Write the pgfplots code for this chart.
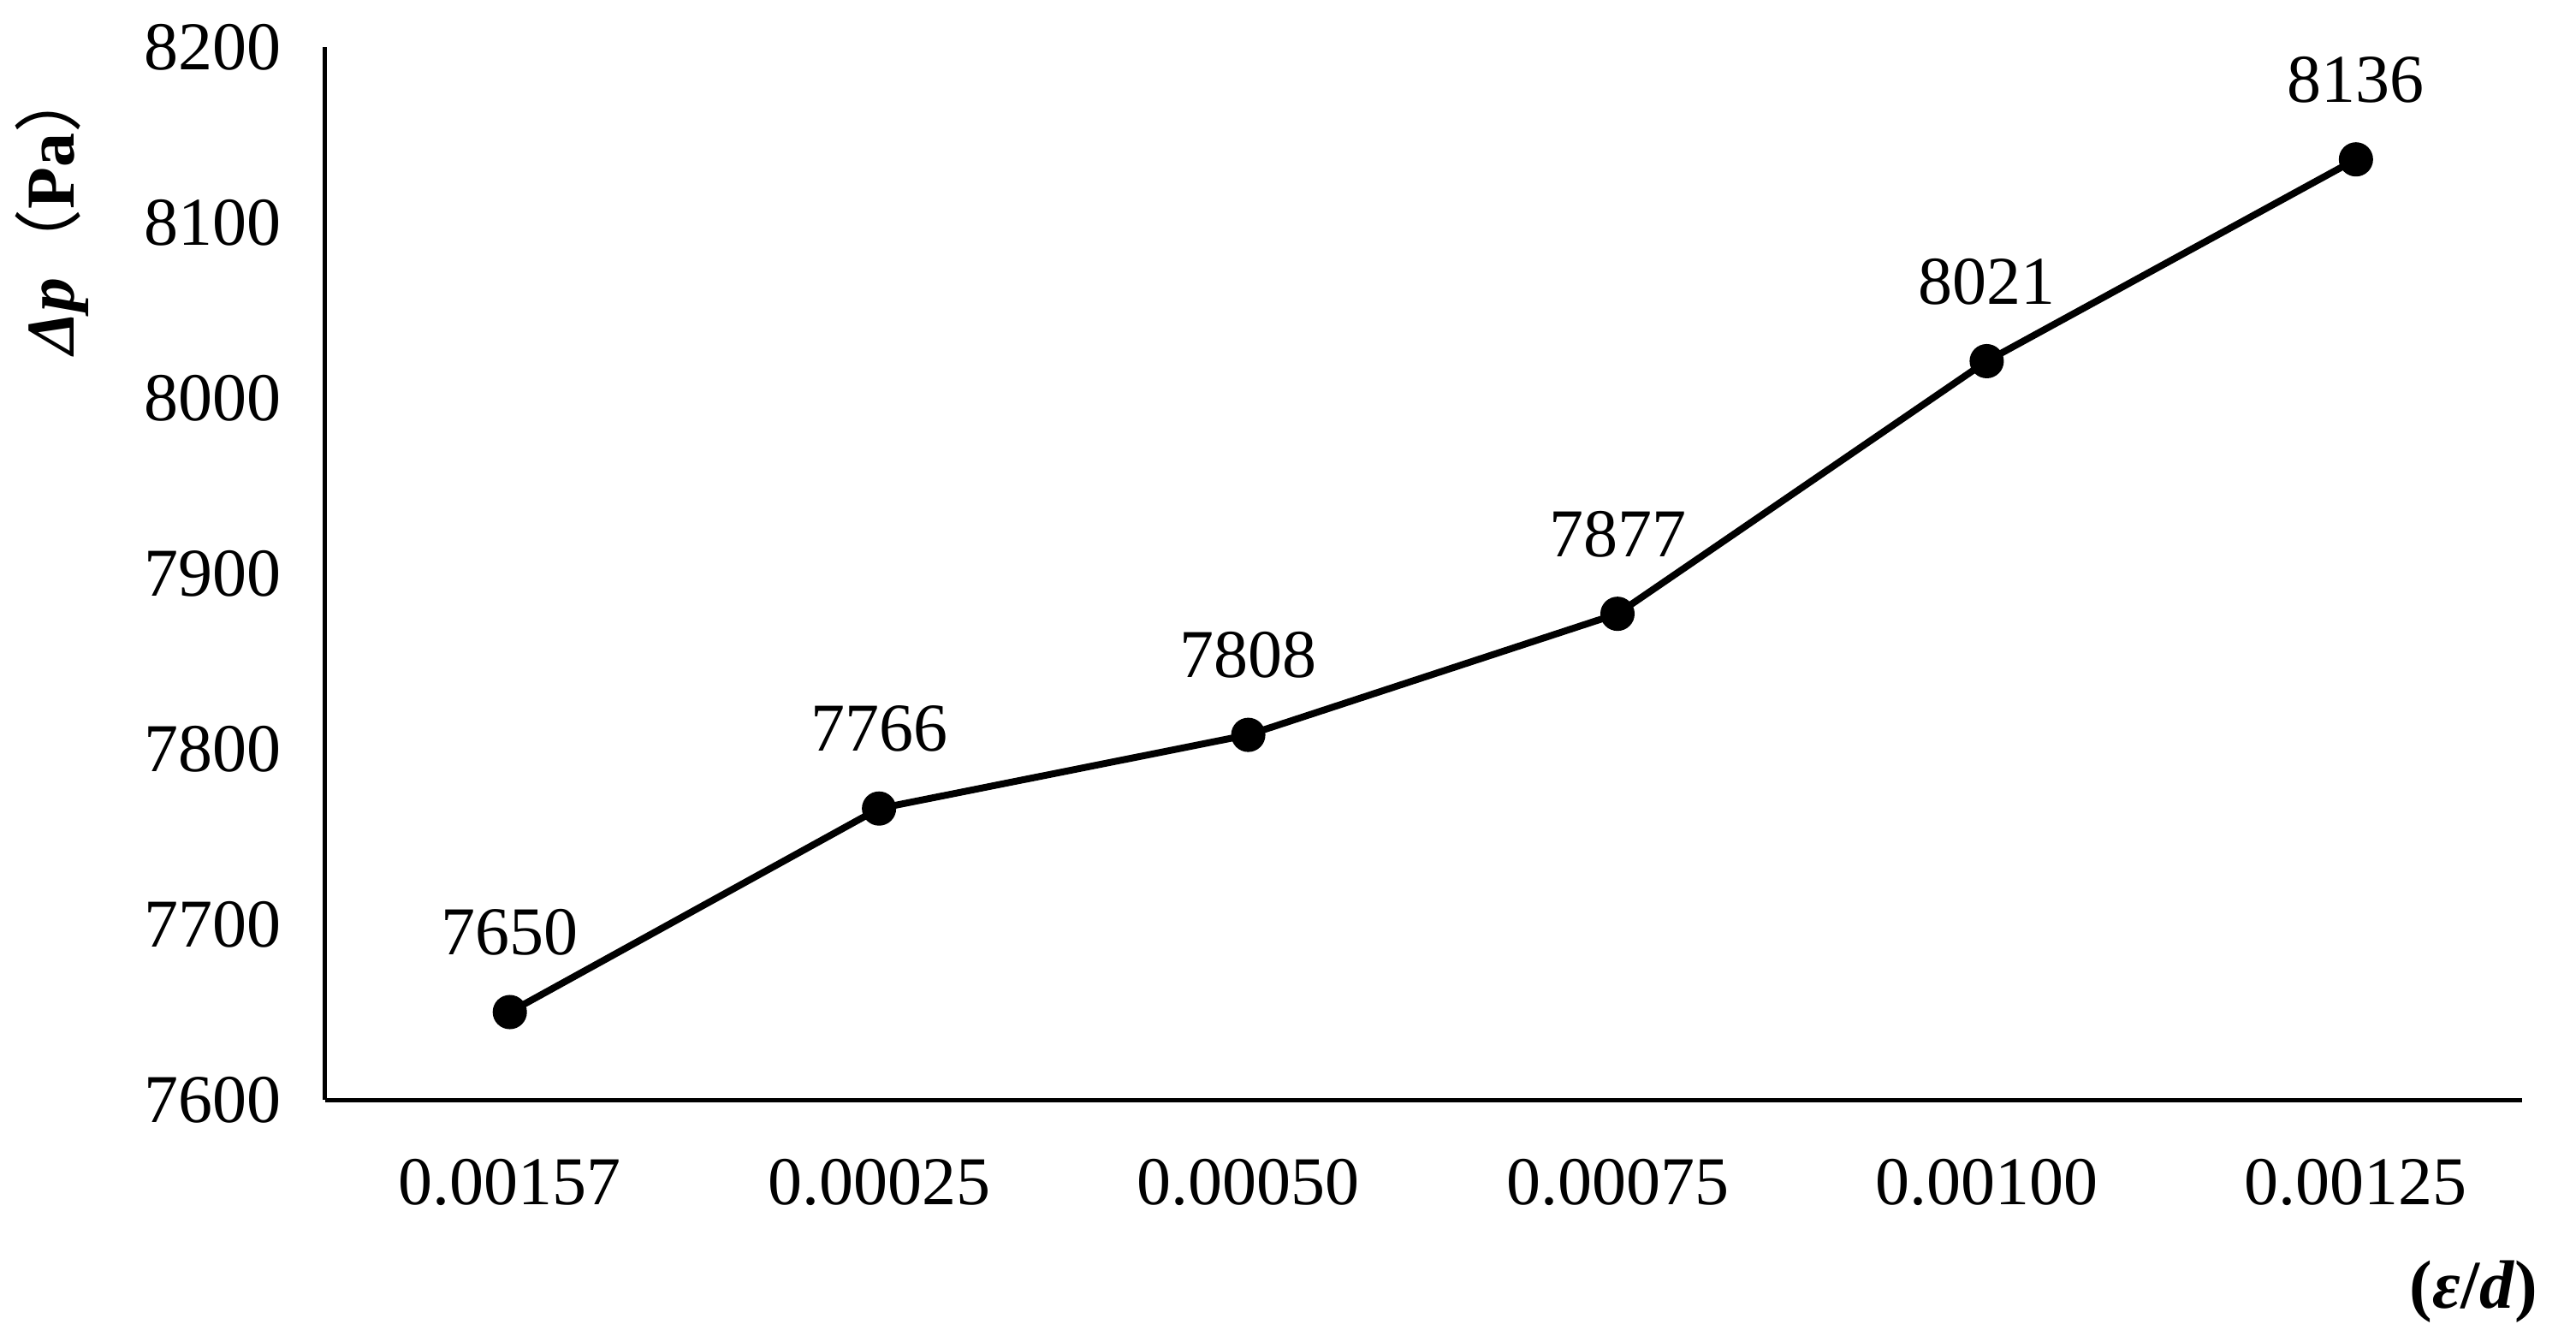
\documentclass[border=0pt]{standalone}
\usepackage{fontspec}
\setmainfont{Liberation Serif}
\newfontfamily\cjk{Noto Sans CJK SC}
\usepackage{pgfplots}
\pgfplotsset{compat=1.18}
\pgfplotstableread{
x y lab
0 7650 7650
1 7766 7766
2 7808 7808
3 7877 7877
4 8021 8021
5 8136 8136
}\datatab
\begin{document}
\begin{tikzpicture}
\begin{axis}[
  scale only axis, width=513.4pt, height=246pt,
  xmin=-0.5, xmax=5.45, ymin=7600, ymax=8200,
  axis x line*=bottom, axis y line*=left,
  axis line style={line width=1pt, black},
  xtick={0,...,5},
  xticklabels={0.00157,0.00025,0.00050,0.00075,0.00100,0.00125},
  ytick={7600,7700,...,8200},
  major tick length=0pt,
  tick style={draw=none},
  /pgf/number format/assume math mode=true,
  /pgf/number format/1000 sep={},
  tick label style={font=\fontsize{16}{19}\selectfont, inner sep=0pt},
  yticklabel style={anchor=east, xshift=-10pt},
  xticklabel style={anchor=north, yshift=-13.6pt},
  clip=false,
  every axis y label/.style={at={(axis description cs:-0.1243,0.8455)}, rotate=90, anchor=center, font=\fontsize{16}{19}\selectfont},
  every axis x label/.style={at={(axis description cs:0.978,0)}, anchor=center, yshift=-44.8pt, font=\fontsize{16}{19}\selectfont},
  ylabel={\textbf{\textit{Δp}}{\cjk （}\textbf{Pa}{\cjk ）}},
  xlabel={\textbf{(\textit{ε}/\textit{d})}},
]
\addplot[black, line width=1.6pt, mark=*, mark size=3.2pt,
  mark options={solid, fill=black},
  nodes near coords, point meta=explicit symbolic,
  every node near coord/.style={anchor=south, inner sep=0pt, yshift=12.4pt, font=\fontsize{16}{19}\selectfont, text=black}]
  table[x=x, y=y, meta=lab] {\datatab};
\end{axis}
\path (current axis.south west) ++(-76pt,-56.4pt) rectangle ++(602pt,313.4pt);
\end{tikzpicture}
\end{document}
